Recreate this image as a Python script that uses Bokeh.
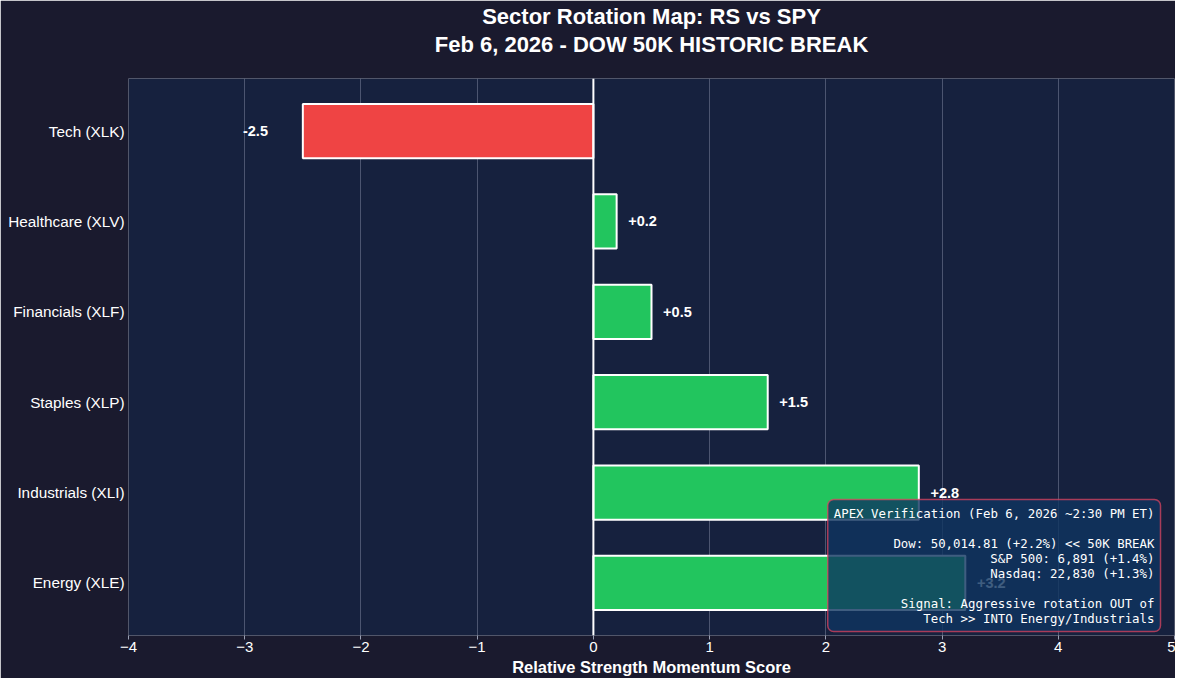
from bokeh.plotting import figure
from bokeh.models import FactorRange, Range1d, FixedTicker, Span, Label, ColumnDataSource, Title
from bokeh.core.properties import value
from bokeh.embed import file_html
from bokeh.resources import INLINE
import numpy as np

sectors = ["Energy (XLE)", "Industrials (XLI)", "Staples (XLP)", "Financials (XLF)", "Healthcare (XLV)", "Tech (XLK)"]
scores = [3.2, 2.8, 1.5, 0.5, 0.2, -2.5]
x_ticks = [-4, -3, -2, -1, 0, 1, 2, 3, 4, 5]

title_line1 = "Sector Rotation Map: RS vs SPY"
title_line2 = "Feb 6, 2026 - DOW 50K HISTORIC BREAK"
x_label = "Relative Strength Momentum Score"
note = ("APEX Verification (Feb 6, 2026 ~2:30 PM ET)\n\n"
        "Dow: 50,014.81 (+2.2%) << 50K BREAK\n"
        "S&P 500: 6,891 (+1.4%)\n"
        "Nasdaq: 22,830 (+1.3%)\n\n"
        "Signal: Aggressive rotation OUT of\n"
        "Tech >> INTO Energy/Industrials")

GREEN = "#22c55e"
RED = "#ef4444"
FIG_BG = "#1a1a2e"
AX_BG = "#16213e"
FONT = "Liberation Sans"

sc = np.array(scores)
colors = [GREEN if v >= 0 else RED for v in scores]
labels = [f"{v:+.1f}" if v >= 0 else f"{v:.1f}" for v in scores]
lab_x = np.where(sc >= 0, sc + 0.1, sc - 0.3)
lab_align = ["left" if v >= 0 else "right" for v in scores]

src = ColumnDataSource(dict(y=sectors, right=scores, color=colors,
                            lx=lab_x, lab=labels, align=lab_align))

p = figure(width=1175, height=678, output_backend="svg", toolbar_location=None,
           y_range=FactorRange(factors=sectors, range_padding=0.027),
           x_range=Range1d(-4, 5),
           min_border_left=128, min_border_right=1, min_border_top=78, min_border_bottom=38)
p.background_fill_color = AX_BG
p.border_fill_color = FIG_BG
p.outline_line_color = None

# spacer between the title block and the plot frame
p.add_layout(Title(text=" ", align="center", text_color="white", text_font=FONT,
                   text_font_size="18px", standoff=0), "above")
p.add_layout(Title(text=title_line2, align="center", text_color="white", text_font=FONT,
                   text_font_size="22px", text_font_style="bold", standoff=0), "above")
p.add_layout(Title(text=title_line1, align="center", text_color="white", text_font=FONT,
                   text_font_size="22px", text_font_style="bold", standoff=1), "above")

p.hbar(y="y", right="right", left=0, height=0.6, source=src, fill_color="color",
       line_color="white", line_width=2)

p.add_layout(Span(location=0, dimension="height", line_color="white", line_width=2))

p.text(x="lx", y="y", text="lab", source=src, text_align="align", text_baseline="middle",
       text_color="white", text_font=value(FONT), text_font_size="14.5px", text_font_style="bold")

# x axis
p.xaxis.ticker = FixedTicker(ticks=x_ticks)
p.xaxis.major_label_overrides = {t: (f"\u2212{abs(t)}" if t < 0 else str(t)) for t in x_ticks}
p.xaxis.axis_label = x_label
p.xaxis.axis_label_text_color = "white"
p.xaxis.axis_label_text_font = FONT
p.xaxis.axis_label_text_font_size = "16.5px"
p.xaxis.axis_label_text_font_style = "bold"
p.xaxis.axis_label_standoff = 3
p.xaxis.major_label_text_color = "white"
p.xaxis.major_label_text_font = FONT
p.xaxis.major_label_text_font_size = "15px"
p.xaxis.axis_line_color = None
p.xaxis.major_tick_line_color = "#9aa0b4"
p.xaxis.major_tick_in = 0
p.xaxis.major_tick_out = 4
p.xaxis.minor_tick_line_color = None
p.xaxis.major_label_standoff = 2

# y axis
p.yaxis.major_label_text_color = "white"
p.yaxis.major_label_text_font = FONT
p.yaxis.major_label_text_font_size = "15.3px"
p.yaxis.axis_line_color = None
p.yaxis.major_tick_line_color = None
p.yaxis.major_tick_in = 0
p.yaxis.major_tick_out = 0
p.yaxis.minor_tick_line_color = None
p.yaxis.major_label_standoff = 4

p.xgrid.grid_line_color = "#8a90a8"
p.xgrid.grid_line_alpha = 0.6
p.xgrid.grid_line_width = 0.8
p.ygrid.grid_line_color = None

note_label = Label(x=1032, y=4, x_units="screen", y_units="screen", text=note,
                   text_align="right", text_baseline="bottom", text_color="white",
                   text_font="DejaVu Sans Mono", text_font_size="12.4px", text_line_height=1.0,
                   background_fill_color="#0f3460", background_fill_alpha=0.8,
                   border_line_color="#e94560", border_line_alpha=0.7, border_line_width=1.5,
                   border_radius=6, padding=6)
p.add_layout(note_label)

open("out.html", "w").write(file_html(p, INLINE))
